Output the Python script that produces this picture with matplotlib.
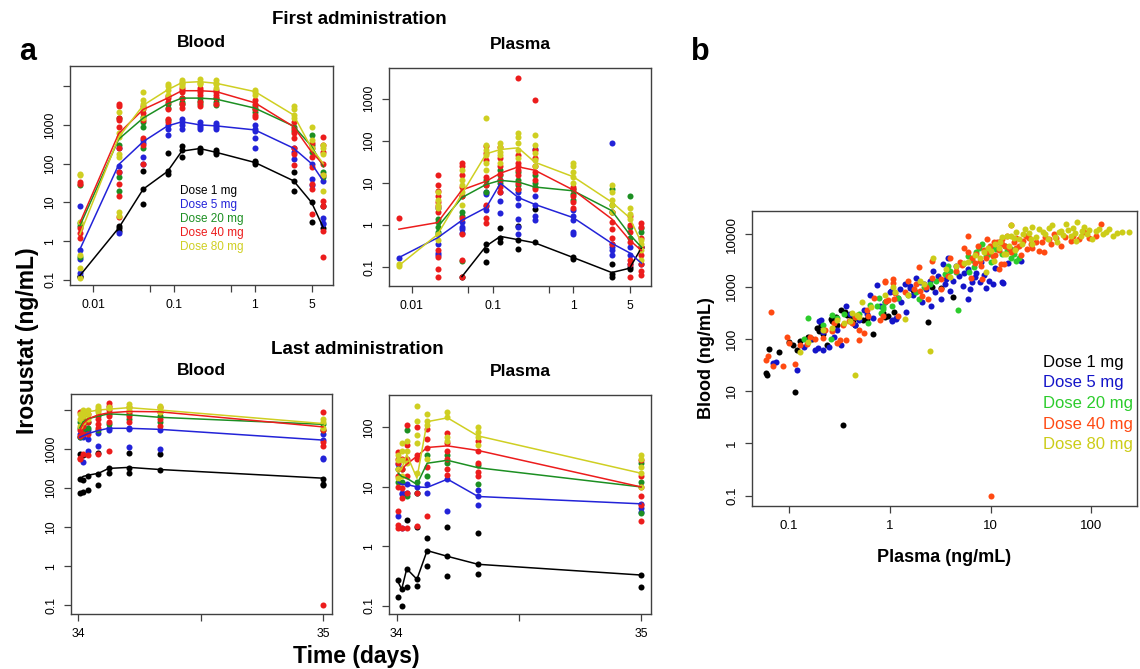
import numpy as np
import matplotlib
matplotlib.use("Agg")
import matplotlib.pyplot as plt
from matplotlib.ticker import NullLocator

plt.rcParams["font.family"] = ["Liberation Sans", "DejaVu Sans"]

W, H = 1140, 669
NAN = np.nan

DOSES = ["Dose 1 mg", "Dose 5 mg", "Dose 20 mg", "Dose 40 mg", "Dose 80 mg"]
COLORS_A = ["#000000", "#2323d8", "#1c8f22", "#ec1c1c", "#cfcf22"]
COLORS_B = ["#000000", "#1414c8", "#2ccc2c", "#ff4a12", "#cccc18"]

# sampling times (days)
T_FIRST = [0.0069, 0.0208, 0.0417, 0.0833, 0.125, 0.2083, 0.3333, 1, 3, 5, 7]
T_LAST = [34.0069, 34.0208, 34.0417, 34.0833, 34.125, 34.2083, 34.3333, 35.0]

# ---- first administration, blood ----
FIRST_BLOOD_LINE = [
    [0.13, 2.2, 22, 63, 210, 245, 195, 107, 36, 10, 2.2],
    [0.62, 95, 370, 940, 1200, 1000, 940, 740, 250, 100, 35],
    [2.5, 430, 1500, 3500, 4900, 4900, 4600, 2700, 930, 280, 83],
    [3.0, 600, 2500, 4900, 7600, 7600, 7200, 3700, 900, 200, 95],
    [1.5, 480, 3200, 8000, 12300, 13000, 11800, 7200, 1800, 250, 100],
]
FIRST_BLOOD_OBS = [
    [[0.13, 0.12], [1.8, 2.2, 2.5], [9, 22, 65], [55, 65, 190], [150, 220, 280],
     [200, 230, 260], [180, 200, 220], [95, 110, 120], [20, 35, 60], [3.2, 10], [2.2, 8]],
    [[0.15, 0.35, 0.6, 8], [1.6, 60, 85, 250], [95, 150, 350, 400], [550, 800, 1000],
     [800, 1000, 1200, 1400], [800, 900, 1000, 1200], [800, 900, 1000, 1100],
     [250, 450, 700, 800, 1000], [130, 200, 250], [28, 40, 100], [2.8, 3, 4, 35]],
    [[0.4, 2.5, 3, 28], [20, 45, 300, 1500], [250, 900, 1200, 1600], [1300, 2800, 3500],
     [3500, 4000, 5000], [3500, 4200, 5000], [3200, 4000, 5000], [2200, 2500, 3000],
     [700, 900], [200, 300, 550], [45, 60]],
    [[1.2, 1.6, 2.2, 30, 33], [4.2, 15, 30, 60, 250, 900, 1300, 1500, 3000, 3500],
     [100, 300, 450, 1300, 2000, 2500, 3000], [1200, 1400, 2500, 4000, 5000, 5500],
     [2800, 3500, 5000, 7000, 8000, 9000], [3000, 4000, 6000, 7000, 8000, 9000],
     [3500, 5000, 6000, 7000, 8000], [1600, 1800, 2500, 3500, 4500],
     [90, 180, 250, 450, 600, 800, 1200], [5, 22, 30, 80, 150, 250, 350],
     [0.4, 1.8, 8, 11, 50, 100, 200, 300, 500]],
    [[0.11, 0.2, 0.45, 3.2, 50, 55], [4.5, 5.5, 150, 180, 500, 600, 2200],
     [1500, 2800, 3500, 4500, 7000], [6000, 8000, 10000, 11000],
     [10000, 11000, 12000, 13000, 14000], [11000, 12000, 13000, 15000],
     [9000, 11000, 12000, 14000], [6000, 7000, 8000], [1500, 1800, 2500, 3000],
     [250, 400, 900], [20, 50, 180, 250, 300]],
]

# ---- first administration, plasma ----
FIRST_PLASMA_LINE = [
    [NAN, NAN, 0.06, 0.32, 0.54, 0.45, 0.38, 0.17, 0.075, 0.095, 0.29],
    [0.17, 0.5, 1.3, 2.6, 9.8, 4.5, 3.1, 1.5, 0.37, 0.22, 0.125],
    [NAN, 0.9, 4.5, 9.2, 11.5, 10.5, 8.0, 6.5, 2.2, 0.6, 0.3],
    [0.8, 1.15, 6.8, 11, 17, 24, 20, 6.8, 1.4, 0.44, 0.25],
    [0.11, 0.6, 5.5, 49, 62, 68, 31, 14, 3.5, 1.5, 0.38],
]
FIRST_PLASMA_OBS = [
    [[], [], [0.06], [0.13, 0.26, 0.35], [0.4, 0.5, 0.85], [0.27, 0.45, 0.95], [0.4, 2.4],
     [0.16, 0.18], [0.06, 0.07, 0.12], [0.09, 0.1], [0.3]],
    [[0.17], [0.2, 0.22, 0.35, 2.5], [0.65, 0.8, 0.9, 1.2], [2.3, 2.8, 5.5, 6],
     [1.9, 3.8, 6, 12], [0.6, 0.9, 1.4, 3, 4.5, 6], [1.3, 1.6, 3, 5, 65],
     [0.6, 0.7, 1.3, 1.6, 2.3], [0.2, 0.25, 0.3, 0.35, 90], [0.12, 0.2, 0.3], [0.12, 0.3]],
    [[], [0.6, 0.7, 0.9, 1.2, 1.4], [0.14, 1.6, 2, 5], [6, 9, 12], [10, 15, 20],
     [7, 9, 12, 18], [8, 10, 15], [4, 5.5, 7], [2, 3, 7], [0.5, 0.9, 4.8], [0.7, 0.85]],
    [[1.5], [0.06, 0.09, 0.18, 0.25, 2, 2.8, 3.5, 5, 6.5, 9, 15],
     [0.06, 0.15, 0.6, 1.5, 5, 8, 15, 25, 30], [1.1, 1.5, 3, 9, 14, 35, 50, 75],
     [6, 8, 12, 16, 25, 40, 70], [7, 10, 15, 20, 25, 30, 45, 3000],
     [7, 12, 18, 25, 40, 60, 900], [2.5, 3.5, 5, 7, 8], [0.35, 0.5, 0.8, 1.2, 2],
     [0.06, 0.12, 0.15, 0.4, 0.7, 1, 1.6], [0.065, 0.08, 0.12, 0.2, 0.3, 0.5, 0.9, 1.1]],
    [[0.11, 0.12], [0.45, 0.6, 2.5, 3, 4, 6], [3, 6, 9, 12, 20], [20, 30, 45, 60, 80, 350],
     [30, 45, 55, 70, 90], [40, 60, 90, 120, 150], [25, 35, 50, 80, 140],
     [10, 14, 18, 25, 30], [2, 3, 4, 6, 9], [1.4, 1.8, 2.5], [0.15, 0.25, 0.35, 0.45]],
]

# ---- last administration, blood ----
LAST_BLOOD_LINE = [
    [170, 200, 215, 240, 320, 340, 300, 180],
    [2000, 2200, 2500, 3000, 3400, 3400, 3200, 1700],
    [3500, 5000, 6000, 7000, 8000, 7500, 6500, 4300],
    [3000, 4500, 6000, 7500, 8500, 9200, 9000, 3700],
    [5000, 7000, 9000, 10000, 10500, 11500, 10000, 4500],
]
LAST_BLOOD_OBS = [
    [[740, 170, 75], [700, 160, 80], [200, 90], [800, 230, 120], [320, 240],
     [800, 330, 250], [740, 290], [170, 130, 120]],
    [[2000, 2500], [480, 2000, 2800, 4000], [880, 1800, 3000], [1200, 2600],
     [3500, 3000], [1100, 3500, 3300], [1000, 3000], [600, 550, 1700, 2500]],
    [[2000, 3500, 5000], [3000, 4500, 6000], [3500, 5000], [3000, 7000], [4500, 8000],
     [6000, 8000], [5000, 7000], [3000, 4500]],
    [[560, 600, 2200, 3000, 9000], [750, 2500, 4000, 6000, 9500], [700, 2500, 5000, 8000],
     [750, 3500, 4500, 6000, 10000], [870, 5000, 7000, 10000, 13000, 15000],
     [5000, 7000, 9000, 12000], [4000, 6000, 9000, 12000], [0.1, 1200, 1500, 3000, 9000]],
    [[4000, 6000, 8000], [5000, 7000, 9000, 10000], [6000, 8000, 10000],
     [9000, 11000, 13000], [11000, 12000], [10000, 12000, 14000], [9000, 11000, 13000],
     [3500, 5000, 6000]],
]

# ---- last administration, plasma ----
LAST_PLASMA_LINE = [
    [0.25, 0.19, 0.42, 0.28, 0.85, 0.68, 0.5, 0.33],
    [12, 11, 11, 10, 9.8, 13.5, 6.9, 5.2],
    [17, 15, 14, 11, 25, 28, 21, 10],
    [18, 20, 24, 33, 46, 49, 41, 10],
    [18, 20, 35, 14, 125, 145, 72, 17],
]
LAST_PLASMA_OBS = [
    [[0.27, 0.14], [0.19, 0.1], [2.8, 0.42, 0.21], [2.1, 0.28, 0.22], [1.4, 0.85, 0.46],
     [2.1, 0.68, 0.32], [1.7, 0.5, 0.35], [0.33, 0.21]],
    [[24, 3.3], [8, 7.5, 2], [11, 8], [10, 7.8], [11, 8], [13.5, 4], [9, 5, 6.9],
     [5.2, 4.5, 3.8]],
    [[20, 12], [20, 12], [90, 7], [12, 8], [35, 15], [35, 25], [23, 11], [25, 12, 3.6]],
    [[38, 30, 25, 15, 10, 4, 2.3, 2], [30, 20, 9.5, 6.5, 2], [110, 50, 30, 15, 8, 2],
     [100, 35, 30, 2.2, 8], [95, 65, 45, 3.2, 22], [80, 55, 40, 30, 20, 16],
     [60, 40, 25, 18, 15], [28, 15, 10, 7, 5, 2.7]],
    [[35, 28, 20, 14], [55, 40, 28, 15], [60, 40, 25], [230, 130, 75, 55, 17],
     [170, 130, 110, 30], [180, 150, 70, 60], [100, 85, 70, 50], [35, 30, 22, 17, 10]],
]

# ---- blood vs plasma pairs (per dose) ----
B_PLASMA = [
    [0.059, 0.064, 0.1, 0.116, 0.12, 0.154, 0.19, 0.2, 0.22, 0.24, 0.27, 0.33, 0.34,
     0.36, 0.38, 0.43, 0.48, 0.54, 0.68, 0.85, 0.95, 1.7, 2.4, 4.2, 2.6, 0.3, 0.06,
     0.11, 0.17, 0.26, 0.45, 0.9, 3.2, 0.08, 0.13, 0.21, 0.29, 0.41, 0.6, 1.1],
    [0.075, 0.12, 0.21, 0.22, 0.195, 0.22, 0.33, 0.37, 0.63, 0.74, 1.0, 0.68, 1.04,
     1.16, 1.03, 1.14, 1.45, 1.6, 1.8, 2.0, 2.1, 2.55, 2.7, 3.2, 3.4, 4.0, 3.8, 4.9,
     5.3, 5.9, 6.6, 7.2, 7.8, 9.0, 9.6, 13, 3.0, 1.7, 1.06, 1.3, 1.6, 20, 13.4, 0.07,
     0.18, 0.25, 0.28, 0.16, 0.45, 0.5, 0.8, 1.2, 2.3, 2.5, 3.6, 4.5, 6, 8, 0.2,
     0.4, 0.55, 0.9, 1.25, 1.4, 2.2, 2.8, 3.5, 4.2, 5.5, 6.2, 7, 8.5, 10.5, 0.3,
     0.14, 0.6, 11, 15],
    [0.155, 0.26, 0.27, 0.63, 0.74, 0.82, 1.04, 0.61, 0.79, 0.14, 0.86, 0.85, 4.7,
     1.95, 2.9, 3.5, 4.5, 5.3, 6.1, 7.7, 8.3, 5.9, 9.6, 11.3, 12.2, 14.7, 15.9, 17.8,
     17, 19, 0.3, 0.45, 1.5, 2.2, 3.8, 10, 6.5, 0.5, 1.2, 1.8, 2.5, 4, 6.8, 7.2, 9,
     10.5, 13, 14, 16, 0.9, 0.22, 0.35],
    [0.067, 0.059, 0.062, 0.07, 0.088, 0.115, 0.095, 0.1, 0.13, 0.18, 0.22, 0.3, 0.32,
     0.37, 0.39, 0.42, 0.49, 0.56, 0.5, 0.61, 0.8, 0.86, 0.97, 1.08, 0.89, 1.12, 1.21,
     0.89, 1.07, 0.92, 1.11, 1.4, 1.74, 2.0, 2.1, 2.37, 1.95, 2.6, 3.2, 3.2, 2.6, 5.9,
     5.5, 6.6, 7.2, 7.8, 6.4, 8.3, 9.3, 10.8, 12.6, 15.2, 17, 15.9, 14.6, 17.8, 22.4,
     25, 30, 34, 40, 50, 62, 75, 95, 124, 110, 43, 13.1, 12.2, 13.6, 19, 10.2, 8, 9,
     11, 7, 20, 28, 35, 0.23, 0.15, 0.28, 6, 7.5, 8.5, 9.5, 10.5, 12, 13, 14, 16, 18,
     21, 24, 26, 32, 38, 45, 55, 65, 85, 1.5, 1.8, 2.3, 4.5, 5, 3.8, 0.7, 0.6, 0.45,
     0.34, 0.16, 0.27, 4, 5.2, 9.8, 11.5, 23],
    [0.45, 0.13, 0.155, 0.27, 0.53, 0.42, 0.47, 0.4, 1.08, 1.12, 1.4, 2.7, 14.7, 3.6,
     4, 7.8, 9, 10.1, 10.8, 12.2, 15.9, 13.6, 17, 2.5, 41, 56, 72, 81, 120, 140, 165,
     236, 26, 33, 28, 19, 20.6, 15.2, 14.2, 48, 62, 91, 102, 37, 46, 70, 0.5, 0.35,
     1.5, 2.2, 5.5, 8.5, 11, 24, 30, 52, 65, 85, 110, 180, 16, 18, 21, 22, 25, 35,
     38, 44, 50, 58, 68, 78, 95, 130, 150, 200, 12.5, 9.5, 7, 6, 4.5, 2, 0.9, 0.65,
     0.3, 0.22, 17.5, 13, 26],
]
B_BLOOD = [
    [22, 65, 88, 9.6, 62, 110, 160, 140, 125, 76, 215, 355, 2.2, 320, 290, 230, 250,
     225, 125, 310, 275, 870, 210, 620, 1000, 180, 20, 75, 100, 240, 180, 260, 950,
     55, 90, 180, 260, 270, 240, 330],
    [36, 25, 230, 138, 66, 62, 76, 420, 690, 1070, 800, 250, 230, 250, 830, 240, 320,
     1020, 1480, 1200, 500, 430, 2000, 570, 2700, 830, 3600, 1600, 1020, 570, 1200,
     1850, 1200, 940, 1300, 1200, 1600, 700, 220, 500, 950, 3150, 1150, 35, 62, 70,
     110, 100, 180, 230, 420, 600, 900, 1300, 1400, 2500, 2200, 3000, 220,
     300, 350, 500, 900, 1100, 1100, 800, 1100, 1300, 1800, 900, 1500, 1700, 1100,
     150, 70, 300, 2300, 2800],
    [250, 100, 290, 450, 420, 310, 420, 200, 600, 98, 380, 400, 350, 570, 1290, 1730,
     1870, 2700, 1870, 5600, 6500, 3900, 4200, 5200, 7100, 4900, 3600, 3150, 4200,
     3600, 250, 260, 700, 1000, 2500, 3000, 3200, 300, 600, 800, 1100, 2000, 2400,
     4500, 3800, 5500, 4200, 6000, 5200, 500, 180, 300],
    [320, 40, 46, 30, 30, 33, 107, 85, 76, 100, 102, 85, 96, 96, 215, 200, 148, 127,
     96, 270, 230, 270, 560, 1180, 1260, 740, 270, 1200, 1390, 540, 570, 780, 900, 830,
     660, 570, 2340, 3150, 900, 1390, 1480, 9300, 5600, 3600, 4200, 3150, 1480, 1390,
     8100, 7100, 2700, 5600, 7100, 14800, 9300, 8700, 9300, 6500, 4900, 4500, 6500,
     6000, 7600, 8100, 8700, 15800, 9300, 10000, 6500, 2200, 2700, 6000, 0.1, 2500,
     3500, 4000, 2800, 4000, 7000, 9000, 150, 80, 200, 4500, 6000, 5000, 4500, 3800,
     5000, 8000, 6000, 4500, 5500, 7500, 8500, 5500, 7000, 8000, 8500, 9000, 9500,
     11000, 1300, 1100, 1000, 2000, 3000, 1600, 600, 350, 260, 180, 110, 140, 3500,
     2600, 6000, 7200, 5200],
    [20.5, 57, 88, 160, 500, 310, 290, 220, 1000, 800, 240, 3600, 9300, 2200, 1500,
     3600, 1870, 4900, 3150, 5600, 14800, 4200, 8700, 59, 14800, 15800, 17000, 11800,
     12600, 11000, 9300, 11000, 13800, 11000, 9000, 8100, 6500, 6000, 4200, 11000,
     9300, 10000, 8100, 8100, 7100, 7600, 260, 200, 700, 1100, 2800, 4500, 6500,
     10500, 12500, 9800, 13000, 14000, 11500, 10500, 9500, 11000, 10000, 12500, 8000,
     10000, 13000, 9000, 11500, 12000, 10500, 9500, 12000, 10000, 12500, 11000, 7000,
     5500, 4000, 3000, 2500, 1300, 700, 400, 230, 150, 5000, 9000, 6500],
]


def box(left, top, right, bottom):
    return [left / W, 1 - bottom / H, (right - left) / W, (bottom - top) / H]


def style_axes(ax, tick_size=8.8):
    for sp in ax.spines.values():
        sp.set_color("#404040")
        sp.set_linewidth(1.0)
    ax.tick_params(direction="out", length=5, width=0.9, color="#404040",
                   labelsize=tick_size, pad=5)
    ax.xaxis.set_minor_locator(NullLocator())
    ax.yaxis.set_minor_locator(NullLocator())


def log_yticks(ax, ticks, labels):
    ax.set_yticks(ticks, labels=labels, rotation=90, va="center")
    ax.yaxis.set_minor_locator(NullLocator())


def draw_panel(ax, times, lines, obs):
    for i, color in enumerate(COLORS_A):
        for t, vals in zip(times, obs[i]):
            if vals:
                ax.scatter([t] * len(vals), vals, s=19, color=color, lw=0, zorder=2)
        ax.plot(times, lines[i], color=color, lw=1.1, zorder=3)


fig = plt.figure(figsize=(W / 100, H / 100), dpi=100)

first_xt = [0.01, 0.05, 0.1, 0.5, 1, 5]
first_xl = ["0.01", "", "0.1", "", "1", "5"]

# top left: blood after first dose
ax1 = fig.add_axes(box(70, 66, 333, 285))
ax1.set_xscale("log")
ax1.set_yscale("log")
draw_panel(ax1, T_FIRST, FIRST_BLOOD_LINE, FIRST_BLOOD_OBS)
ax1.set_xlim(0.0052, 9.2)
ax1.set_ylim(0.074, 33000)
ax1.set_xticks(first_xt, labels=first_xl)
log_yticks(ax1, [0.1, 1, 10, 100, 1000, 10000], ["0.1", "1", "10", "100", "1000", ""])
style_axes(ax1)
for i, (name, color) in enumerate(zip(DOSES, COLORS_A)):
    ax1.text(180 / W, 1 - (191 + 14 * i) / H, name, transform=fig.transFigure,
             color=color, fontsize=8.5, va="center", ha="left")

# top right: plasma after first dose
ax2 = fig.add_axes(box(389, 68, 651, 286))
ax2.set_xscale("log")
ax2.set_yscale("log")
draw_panel(ax2, T_FIRST, FIRST_PLASMA_LINE, FIRST_PLASMA_OBS)
ax2.set_xlim(0.0052, 9.2)
ax2.set_ylim(0.036, 5300)
ax2.set_xticks(first_xt, labels=first_xl)
log_yticks(ax2, [0.1, 1, 10, 100, 1000], ["0.1", "1", "10", "100", "1000"])
style_axes(ax2)

# bottom left: blood after last dose
ax3 = fig.add_axes(box(71, 394, 332, 614))
ax3.set_yscale("log")
draw_panel(ax3, T_LAST, LAST_BLOOD_LINE, LAST_BLOOD_OBS)
ax3.set_xlim(33.971, 35.037)
ax3.set_ylim(0.06, 25700)
ax3.set_xticks([34, 34.5, 35], labels=["34", "", "35"])
log_yticks(ax3, [0.1, 1, 10, 100, 1000, 10000], ["0.1", "1", "10", "100", "1000", ""])
style_axes(ax3)

# bottom right: plasma after last dose
ax4 = fig.add_axes(box(389, 395, 651, 614))
ax4.set_yscale("log")
draw_panel(ax4, T_LAST, LAST_PLASMA_LINE, LAST_PLASMA_OBS)
ax4.set_xlim(33.969, 35.041)
ax4.set_ylim(0.073, 351)
ax4.set_xticks([34, 34.5, 35], labels=["34", "", "35"])
log_yticks(ax4, [0.1, 1, 10, 100], ["0.1", "1", "10", "100"])
style_axes(ax4)

for ax, title in [(ax1, "Blood"), (ax2, "Plasma"), (ax3, "Blood"), (ax4, "Plasma")]:
    ax.set_title(title, fontsize=12.5, fontweight="bold", pad=14)

# panel b: blood vs plasma
axb = fig.add_axes(box(752, 211, 1137, 506))
axb.set_xscale("log")
axb.set_yscale("log")
for i, color in enumerate(COLORS_B):
    axb.scatter(B_PLASMA[i], B_BLOOD[i], s=19, color=color, lw=0, zorder=2)
axb.set_xlim(0.043, 283)
axb.set_ylim(0.063, 28000)
axb.set_xticks([0.1, 1, 10, 100], labels=["0.1", "1", "10", "100"])
log_yticks(axb, [0.1, 1, 10, 100, 1000, 10000],
           ["0.1", "1", "10", "100", "1000", "10000"])
style_axes(axb, tick_size=9.5)
axb.set_xlabel("Plasma (ng/mL)", fontsize=13, fontweight="bold", labelpad=12)
axb.set_ylabel("Blood (ng/mL)", fontsize=13, fontweight="bold", labelpad=8)
for i, (name, color) in enumerate(zip(DOSES, COLORS_B)):
    fig.text(1043 / W, 1 - (362 + 20.7 * i) / H, name, color=color, fontsize=12,
             va="center", ha="left")

# figure-level labels
fig.text(359 / W, 1 - 20 / H, "First administration", fontsize=13.5,
         fontweight="bold", ha="center", va="center")
fig.text(357 / W, 1 - 349 / H, "Last administration", fontsize=13.5,
         fontweight="bold", ha="center", va="center")
fig.text(28 / W, 1 - 341 / H, "Irosustat (ng/mL)", fontsize=16.5, fontweight="bold",
         rotation=90, ha="center", va="center")
fig.text(356 / W, 1 - 657 / H, "Time (days)", fontsize=16.5, fontweight="bold",
         ha="center", va="center")
fig.text(28 / W, 1 - 52 / H, "a", fontsize=22, fontweight="bold", ha="center", va="center")
fig.text(700 / W, 1 - 52 / H, "b", fontsize=22, fontweight="bold", ha="center", va="center")

fig.savefig("out.png", dpi=100)
